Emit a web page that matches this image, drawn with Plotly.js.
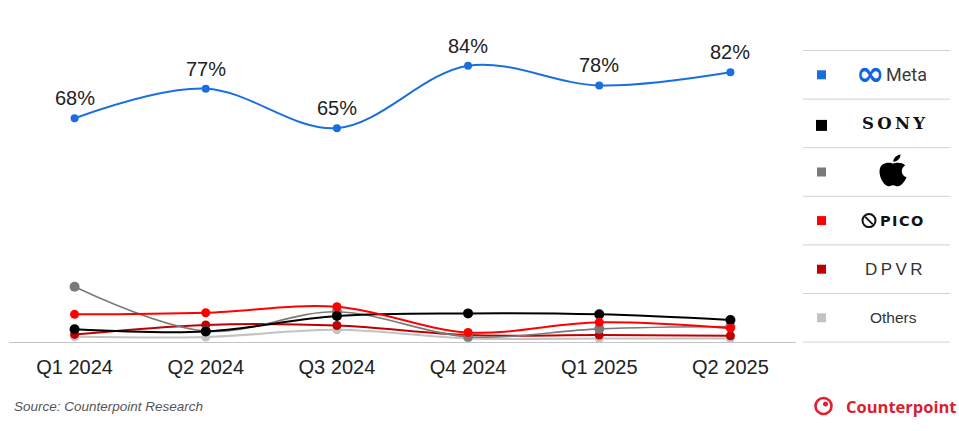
<!DOCTYPE html>
<html>
<head>
<meta charset="utf-8">
<script src="https://cdn.plot.ly/plotly-3.0.1.min.js"></script>
<style>html,body{margin:0;padding:0;background:#fff;}#chart{width:959px;height:431px;}</style>
</head>
<body>
<div id="chart"></div>
<script>
// ---- data ----
const quarters = ['Q1 2024','Q2 2024','Q3 2024','Q4 2024','Q1 2025','Q2 2025'];
const meta   = [68, 77, 65, 84, 78, 82];
const sony   = [3.9, 3.2, 7.9, 8.7, 8.4, 6.7];
const apple  = [16.8, 3.3, 9.2, 1.6, 4.0, 4.7];
const pico   = [8.4, 8.9, 10.7, 2.9, 6.0, 4.2];
const dpvr   = [2.3, 5.2, 5.0, 2.1, 2.1, 1.9];
const others = [1.6, 1.5, 3.7, 1.1, 1.1, 1.1];
const metaLabels = meta.map(v => v + '%');
const brandNames = ['Meta','Sony','Apple','Pico','DPVR','Others'];

// ---- styling ----
const W = 959, H = 431;
const M = {l: 9, r: 163, t: 13, b: 89};
const PW = W - M.l - M.r, PH = H - M.t - M.b;
const xp = px => (px - M.l) / PW;
const yp = py => (H - M.b - py) / PH;
const FONT = 'Liberation Sans, Arial, sans-serif';
const colors = {Meta:'#1a6fe0', Sony:'#000000', Apple:'#7a7a7a', Pico:'#ff0000', DPVR:'#c00000', Others:'#c3c3c3'};

function series(name, y, width, msize) {
  return {
    type: 'scatter', mode: 'lines+markers', name: name,
    x: quarters, y: y,
    line: {color: colors[name], width: width, shape: 'spline', smoothing: 1},
    marker: {color: colors[name], size: msize},
    hoverinfo: 'x+y', showlegend: false, cliponaxis: false
  };
}

const traces = [
  series('Others', others, 2, 9),
  series('DPVR', dpvr, 2, 9),
  series('Apple', apple, 1.6, 10),
  series('Sony', sony, 2, 10),
  series('Pico', pico, 2, 9),
  series('Meta', meta, 2, 8)
];

const annotations = [];
const shapes = [];

// Meta value labels
quarters.forEach((q, i) => {
  annotations.push({x: q, y: meta[i], xref: 'x', yref: 'y', text: metaLabels[i],
    showarrow: false, yshift: 20, font: {family: FONT, size: 20, color: '#222'}});
});

// legend table
const rowTop = 50.5, rowH = 48.6;
for (let i = 0; i <= brandNames.length; i++) {
  const y = rowTop + i * rowH;
  shapes.push({type: 'line', xref: 'paper', yref: 'paper', x0: xp(803), x1: xp(950), y0: yp(y), y1: yp(y),
    line: {color: '#d2d2d2', width: 1}});
}
brandNames.forEach((b, i) => {
  const cy = rowTop + (i + 0.5) * rowH;
  const s = b === 'Sony' ? 5.5 : 4.5;
  const oy = b === 'Sony' ? 2 : 0;
  shapes.push({type: 'rect', xref: 'paper', yref: 'paper', x0: xp(821.5 - s), x1: xp(821.5 + s),
    y0: yp(cy + oy - s), y1: yp(cy + oy + s), fillcolor: colors[b], line: {width: 0}});
});
function rowY(i) { return rowTop + (i + 0.5) * rowH; }
function label(px, py, text, font, anchor) {
  annotations.push({xref: 'paper', yref: 'paper', x: xp(px), y: yp(py), text: text, showarrow: false,
    xanchor: anchor || 'center', yanchor: 'middle', font: font});
}
// Meta logo
label(869.5, rowY(0) - 1.5, '∞', {family: 'DejaVu Sans', size: 34, color: '#0a66e4', weight: 'bold'});
label(906, rowY(0), 'Meta', {family: 'Roboto, sans-serif', size: 18, color: '#3a3a3a'});
// Sony logo
label(893, rowY(1), 'S\u2009O\u2009N\u2009Y', {family: 'DejaVu Serif', size: 16.5, color: '#111', weight: 'bold'});
// Apple logo (drawn)
(function(){
  const cx = 893, cy = rowY(2) - 1, sx = 1.35, sy = 1.13;
  const cmds = [
    ['M',0,-6.5],
    ['C',-2,-7.8,-10,-8.5,-10,0.5],
    ['C',-10,7,-6,13.5,-3.5,13.5],
    ['C',-2,13.5,-1.5,12.5,0,12.5],
    ['C',1.5,12.5,2,13.5,3.5,13.5],
    ['C',6,13.5,9,9,10,5.5],
    ['C',7.5,4.5,6.5,2.5,6.5,0],
    ['C',6.5,-2.5,8,-4,9,-5],
    ['C',7,-8,2,-7.8,0,-6.5],
    ['Z'],
    ['M',0.3,-8],
    ['C',0,-11,2.5,-14,5.5,-14.5],
    ['C',5.8,-11.5,3.5,-8.3,0.3,-8],
    ['Z']
  ];
  let d = '';
  cmds.forEach(c => {
    d += c[0];
    for (let k = 1; k < c.length; k += 2) {
      d += (k > 1 ? ' ' : '') + xp(cx + c[k] * sx).toFixed(5) + ',' + yp(cy + c[k + 1] * sy).toFixed(5);
    }
    d += ' ';
  });
  shapes.push({type: 'path', xref: 'paper', yref: 'paper', path: d.trim(), fillcolor: '#000', line: {width: 0}});
})();
// Pico logo
(function(){
  const cx = 869, cy = rowY(3), r = 6.5;
  shapes.push({type: 'circle', xref: 'paper', yref: 'paper', x0: xp(cx - r), x1: xp(cx + r), y0: yp(cy + r), y1: yp(cy - r),
    line: {color: '#111', width: 2}});
  shapes.push({type: 'line', xref: 'paper', yref: 'paper', x0: xp(cx - 3.8), x1: xp(cx + 3.8), y0: yp(cy - 3.8), y1: yp(cy + 3.8),
    line: {color: '#111', width: 1.8}});
})();
label(901, rowY(3), 'P\u200AI\u200AC\u200AO', {family: 'DejaVu Sans', size: 14.5, color: '#111', weight: 'bold'});
// DPVR
label(893, rowY(4), 'D\u2009P\u2009V\u2009R', {family: FONT, size: 17, color: '#333'});
// Others
label(893, rowY(5), 'Others', {family: FONT, size: 15.5, color: '#333'});

// footer
label(12, 406, '<i>Source: Counterpoint Research</i>', {family: FONT, size: 13.5, color: '#555'}, 'left');
(function(){
  const cx = 823.5, cy = 406, r = 8;
  shapes.push({type: 'circle', xref: 'paper', yref: 'paper', x0: xp(cx - r), x1: xp(cx + r), y0: yp(cy + r), y1: yp(cy - r),
    line: {color: '#e0202e', width: 2.6}});
  shapes.push({type: 'circle', xref: 'paper', yref: 'paper', x0: xp(cx - 0.5), x1: xp(cx + 4.5), y0: yp(cy + 0.5), y1: yp(cy - 4.5),
    fillcolor: '#e0202e', line: {color: '#e0202e', width: 0}});
})();
label(844, 406, 'Counterpoint', {family: 'Open Sans, Liberation Sans, sans-serif', size: 16.5, color: '#d9212d', weight: 'bold'}, 'left');

const layout = {
  width: W, height: H,
  margin: M,
  paper_bgcolor: '#fff', plot_bgcolor: '#fff',
  showlegend: false,
  xaxis: {
    type: 'category', range: [-0.5, 5.5], showgrid: false, zeroline: false,
    showline: true, linecolor: '#c4c4c4', linewidth: 1, ticks: '',
    tickfont: {family: FONT, size: 20, color: '#222'}, ticklabelstandoff: 7, fixedrange: true
  },
  yaxis: {range: [0, 100], visible: false, fixedrange: true},
  annotations: annotations,
  shapes: shapes
};

Plotly.newPlot('chart', traces, layout, {displayModeBar: false, staticPlot: true});
</script>
</body>
</html>
